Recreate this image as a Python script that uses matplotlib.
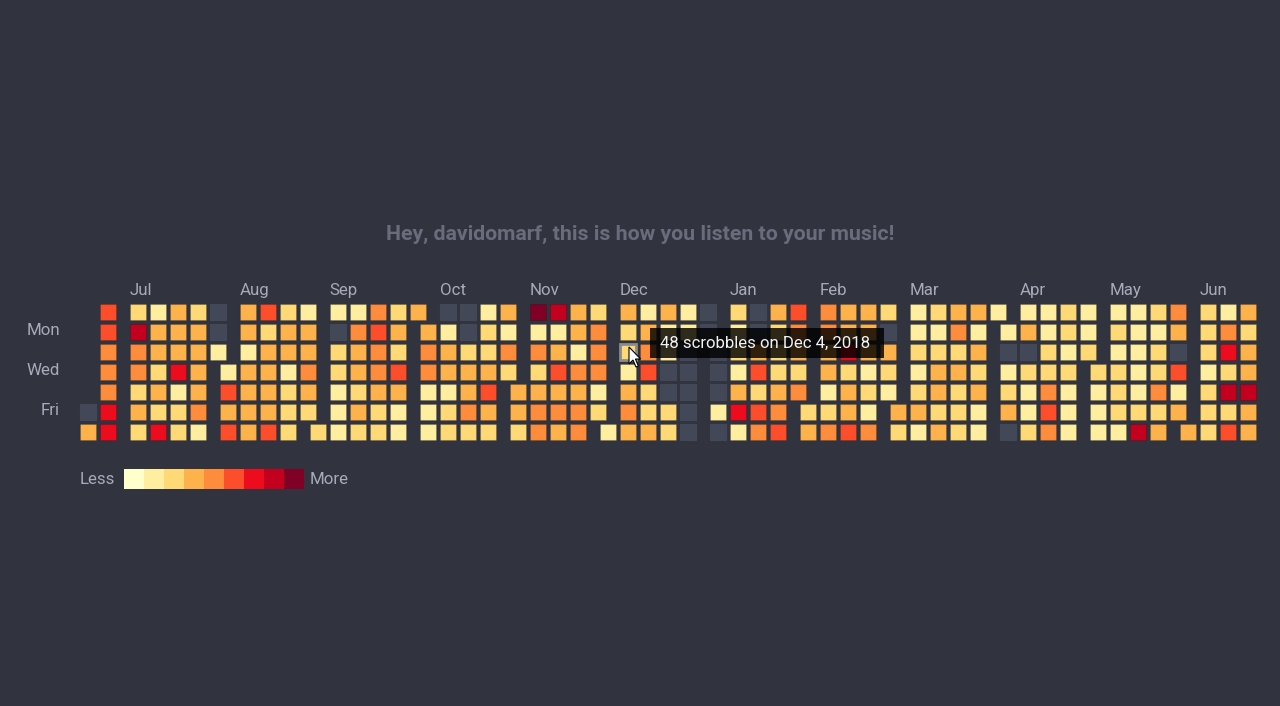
from datetime import date, timedelta
import numpy as np
import matplotlib
matplotlib.use('Agg')
from matplotlib import pyplot as plt
from matplotlib.patches import Rectangle, Polygon

# levels 0..8 on the YlOrRd scale, E = no scrobbles
E = -1

# day-by-day levels, one list per month (Jun 22 2018 .. Jun 22 2019)
jun_2018 = [E, 3, 5, 5, 4, 4, 4, 6, 6]
jul_2018 = [2, 7, 4, 4, 2, 3, 2, 1, 3, 3, 2, 3, 2, 6, 3, 3, 3, 6, 1, 2, 2,
            2, 3, 3, 3, 3, 4, 1, E, E, 1]
aug_2018 = [1, 5, 3, 5, 3, 3, 1, 3, 3, 3, 3, 5, 2, 3, 3, 3, 3, 5, 2, 3, 3,
            1, 2, 2, 2, 1, 3, 3, 4, 3, 2]
sep_2018 = [2, 1, E, 2, 2, 1, 1, 1, 1, 4, 3, 3, 2, 3, 2, 4, 5, 4, 4, 3, 2,
            2, 2, 3, 2, 5, 3, 1, 1, 3]
oct_2018 = [3, 4, 4, 1, 1, 1, E, 1, 3, 3, 1, 2, 2, E, E, 2, 3, 3, 4, 2, 1,
            2, 2, 3, 5, 3, 2, 3, 1, 4, 2]
nov_2018 = [3, 3, 2, 8, 1, 4, 2, 3, 4, 4, 7, 1, 3, 5, 3, 4, 3, 3, 3, 1, 4,
            3, 4, 4, 2, 4, 4, 4, 1, 2]
dec_2018 = [1, 3, 2, 2, 1, 3, 4, 3, 1, 3, 4, 5, 2, 2, 3, 3, 1, 1, E, E, 2,
            2, 1, 1, E, E, E, E, E, E, E]
jan_2019 = [E, E, E, 1, E, 2, 1, 2, 1, 3, 6, 1, E, E, 3, 5, 2, 5, 4, 3, 2,
            2, 2, 3, 4, 5, 5, 4, 3, 2, 4]
feb_2019 = [2, 3, 4, 4, 3, 3, 1, 2, 4, 3, 3, 6, 2, 3, 3, 5, 3, 3, 3, 1, 2,
            1, 4, 2, E, 3, 2, 1]
mar_2019 = [3, 2, 1, 1, 2, 1, 2, 3, 1, 2, 1, 2, 3, 3, 2, 3, 3, 4, 2, 3, 2,
            2, 2, 3, 1, 3, 2, 3, 1, 1, 1]
apr_2019 = [1, E, 1, 2, 3, E, 1, 3, E, 2, 1, 1, 2, 1, 1, 2, 2, 4, 5, 4, 2,
            2, 1, 2, 1, 1, 1, 1, 1, 2]
may_2019 = [2, 1, 1, 1, 1, 2, 1, 2, 2, 2, 1, 1, 1, 1, 1, 1, 2, 7, 2, 1, 2,
            2, 4, 2, 3, 4, 3, E, 5, 1, 3]
jun_2019 = [3, 2, 2, 2, 1, 2, 2, 2, 1, 4, 6, 2, 7, 2, 5, 3, 2, 3, 3, 7, 3, 3]

months = [jun_2018, jul_2018, aug_2018, sep_2018, oct_2018, nov_2018, dec_2018,
          jan_2019, feb_2019, mar_2019, apr_2019, may_2019, jun_2019]
month_names = ['Jul', 'Aug', 'Sep', 'Oct', 'Nov', 'Dec', 'Jan', 'Feb', 'Mar',
               'Apr', 'May', 'Jun']
day_names = ['Mon', 'Wed', 'Fri']
day_rows = [1, 3, 5]
first_day = date(2018, 6, 22)
hover_day = date(2018, 12, 4)
hover_count = 48

title = 'Hey, davidomarf, this is how you listen to your music!'

bg = '#31343f'
empty_color = '#434859'
label_color = '#a7aab8'
# YlOrRd, 9 classes (the 7th a bit brighter, as in the screenshot)
scale = ['#ffffcc', '#ffeda0', '#fed976', '#feb24c', '#fd8d3c', '#fc4e2a',
         '#ec0c1e', '#c4001f', '#800026']

levels = [v for m in months for v in m]
week0 = first_day - timedelta(days=(first_day.weekday() + 1) % 7)  # sunday


def cell_pos(d):
    week = (d - week0).days // 7
    month_idx = (d.year - first_day.year) * 12 + d.month - first_day.month
    dow = (d.weekday() + 1) % 7
    return week + month_idx * 0.5, dow


fig = plt.figure(figsize=(12.8, 7.06), dpi=100, facecolor=bg)
ax = fig.add_axes([0, 0, 1, 1])
ax.set_facecolor(bg)
# 1 unit = one cell step (20 px)
ax.set_xlim(-4.4, 59.6)
ax.set_ylim(19.7, -15.6)
ax.axis('off')

size = 0.82
for i, lev in enumerate(levels):
    d = first_day + timedelta(days=i)
    x, y = cell_pos(d)
    color = empty_color if lev < 0 else scale[lev]
    ec = (0, 0, 0, 0.12) if lev >= 0 else empty_color
    lw = 0.8
    if d == hover_day:
        ec, lw = '#8d8c88', 2.0
    ax.add_patch(Rectangle((x - size / 2, y - size / 2), size, size,
                           facecolor=color, edgecolor=ec, linewidth=lw, zorder=2))

# month labels above the first full week of each month
for k, name in enumerate(month_names):
    m = k + 1
    y0 = first_day.year + (first_day.month + m - 1) // 12
    mo = (first_day.month + m - 1) % 12 + 1
    d = date(y0, mo, 1)
    while (d.weekday() + 1) % 7 != 0:
        d += timedelta(days=1)
    x, _ = cell_pos(d)
    ax.text(x - 0.42, -1.08, name, color=label_color, fontsize=12.2,
            family='Roboto', ha='left', va='center')

for name, r in zip(day_names, day_rows):
    ax.text(-1.4, r - 0.05, name, color=label_color, fontsize=12.2,
            family='Roboto', ha='right', va='center')

ax.text(27.6, -3.87, title, color='#696d7b', fontsize=15.35, family='Roboto',
        fontweight='bold', ha='center', va='center')

# legend
for j in range(9):
    ax.add_patch(Rectangle((1.8 + j, 7.85), 1, 1, facecolor=scale[j],
                           edgecolor='none', zorder=2))
ax.text(1.35, 8.4, 'Less', color=label_color, fontsize=12.2, family='Roboto',
        ha='right', va='center')
ax.text(11.1, 8.4, 'More', color=label_color, fontsize=12.2, family='Roboto',
        ha='left', va='center')

# tooltip
ax.add_patch(Rectangle((28.1, 0.8), 11.7, 1.5, facecolor='black', alpha=0.82,
                       edgecolor='none', zorder=5))
hx, hy = cell_pos(hover_day)
ax.text(28.6, 1.55, f'{hover_count} scrobbles on Dec 4, 2018', color='#f2f2f2',
        fontsize=12.1, family='Roboto', ha='left', va='center', zorder=6)

# mouse pointer
px, py = hx + 0.05, hy - 0.25
arrow = np.array([[0, 0], [0, 0.85], [0.2, 0.65], [0.35, 1.0], [0.47, 0.95],
                  [0.32, 0.6], [0.58, 0.6]])
ax.add_patch(Polygon(arrow + [px, py], closed=True, facecolor='white',
                     edgecolor='black', linewidth=0.8, zorder=7))

fig.savefig('out.png', dpi=100, facecolor=bg)
